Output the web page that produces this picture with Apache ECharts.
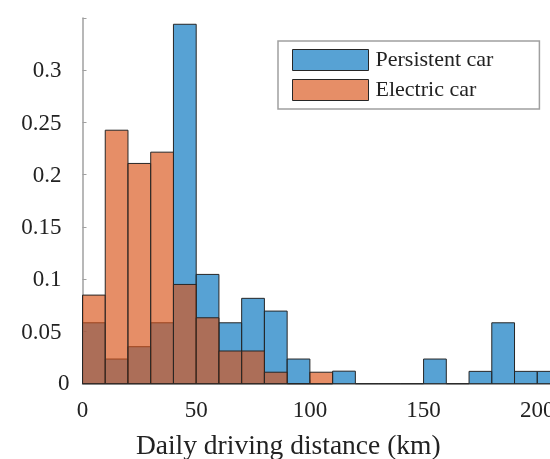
<!DOCTYPE html>
<html>
<head>
<meta charset="utf-8">
<script src="https://cdn.jsdelivr.net/npm/echarts@6/dist/echarts.min.js"></script>
<style>html,body{margin:0;padding:0;background:#fff;}#c{width:550px;height:459px;}</style>
</head>
<body>
<div id="c"></div>
<script>
// Histogram bins (km): start of each 10 km bin
var binStart = [0,10,20,30,40,50,60,70,80,90,100,110,120,130,140,150,160,170,180,190,200];
var binWidth = 10;
// Probability per bin
var persistentCar = [0.0583,0.0236,0.0354,0.0583,0.344,0.1046,0.0583,0.0817,0.0695,0.0236,0,0.012,0,0,0,0.0236,0,0.0118,0.0583,0.0118,0.0118];
var electricCar = [0.0848,0.2426,0.2108,0.2216,0.095,0.0631,0.0313,0.0313,0.011,0,0.011];
var yTicks = [0,0.05,0.1,0.15,0.2,0.25,0.3];
var xTicks = [0,50,100,150,200];
var seriesNames = ['Persistent car','Electric car'];
var xTitle = 'Daily driving distance (km)';

var FONT = '"Liberation Serif","Times New Roman",serif';
var blue = 'rgba(0,114,189,0.66)';
var orange = 'rgba(217,83,25,0.66)';
var edge = '#262626';

function render(params, api){
  var s = api.value(0), v = api.value(1);
  var p0 = api.coord([s, 0]);
  var p1 = api.coord([s + binWidth, v]);
  return {type:'rect', shape:{x:p0[0], y:p1[1], width:p1[0]-p0[0], height:p0[1]-p1[1]}, style: api.style()};
}
function toData(vals){ return vals.map(function(v,i){ return [binStart[i], v]; }); }

var chart = echarts.init(document.getElementById('c'));
chart.setOption({
  animation:false,
  backgroundColor:'#fff',
  grid:{left:82.5, width:477.5, top:18, height:365.7, containLabel:false, outerBoundsMode:'none'},
  legend:{
    orient:'vertical', left:278, top:41,
    padding:[8,46,8,14],
    itemWidth:76, itemHeight:21, itemGap:8,
    borderColor:'#a0a0a0', borderWidth:1.5,
    backgroundColor:'#fff',
    textStyle:{fontFamily:FONT, fontSize:22, color:'#222', padding:[0,0,0,2]},
    data:[
      {name:seriesNames[0], icon:'rect', itemStyle:{color:blue, borderColor:edge, borderWidth:1}},
      {name:seriesNames[1], icon:'rect', itemStyle:{color:orange, borderColor:edge, borderWidth:1}}
    ]
  },
  xAxis:{
    type:'value', min:0, max:210, interval:50,
    name:xTitle, nameLocation:'middle', nameGap:49,
    nameTextStyle:{fontFamily:FONT, fontSize:27.5, color:'#222', padding:[0,66,0,0]},
    axisLine:{show:true, lineStyle:{color:'#a0a0a0', width:1.5}},
    axisTick:{show:true, inside:true, length:4, lineStyle:{color:'#a0a0a0'}},
    axisLabel:{fontFamily:FONT, fontSize:23, color:'#222', margin:16,
      formatter:function(v){ return xTicks.indexOf(v) >= 0 ? String(v) : ''; }},
    splitLine:{show:false}
  },
  yAxis:{
    type:'value', min:0, max:0.35, interval:0.05,
    axisLine:{show:true, lineStyle:{color:'#a0a0a0', width:1.5}},
    axisTick:{show:true, inside:true, length:4, lineStyle:{color:'#a0a0a0'}},
    axisLabel:{fontFamily:FONT, fontSize:23, color:'#222', margin:13,
      rich:{
        a:{fontFamily:FONT, fontSize:23, color:'#222', padding:[2,8,0,0]},
        z:{fontFamily:FONT, fontSize:23, color:'#222', padding:[1,0,0,0]}
      },
      formatter:function(v){
        for (var i=0;i<yTicks.length;i++){
          if (Math.abs(yTicks[i]-v)<1e-9) return yTicks[i] === 0 ? '{z|0}' : '{a|' + yTicks[i] + '}';
        }
        return '';
      }},
    splitLine:{show:false}
  },
  series:[
    {type:'custom', name:seriesNames[0], renderItem:render, encode:{x:0,y:1},
     itemStyle:{color:blue, borderColor:edge, borderWidth:1}, data:toData(persistentCar)},
    {type:'custom', name:seriesNames[1], renderItem:render, encode:{x:0,y:1},
     itemStyle:{color:orange, borderColor:edge, borderWidth:1}, data:toData(electricCar)}
  ]
});
</script>
</body>
</html>
